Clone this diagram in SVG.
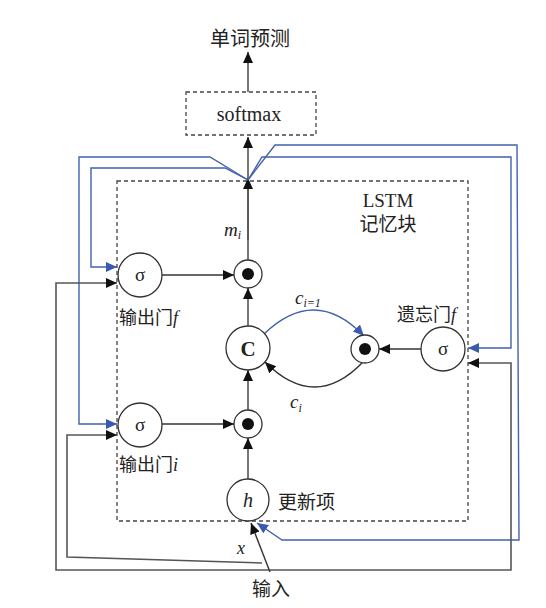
<svg xmlns="http://www.w3.org/2000/svg" width="546" height="608" viewBox="0 0 546 608">
<style>
.t{font-family:"Liberation Serif","Noto Sans CJK SC",serif;fill:#222}
.it{font-style:italic}
.node{fill:#fff;stroke:#333;stroke-width:1.3}
.dash{fill:none;stroke:#444;stroke-width:1.3;stroke-dasharray:4,3}
.bl{fill:none;stroke:#333;stroke-width:1.4}
.gl{fill:none;stroke:#555;stroke-width:1.6}
.bu{fill:none;stroke:#4262ad;stroke-width:1.4}
</style>
<defs>
<marker id="ab" markerUnits="userSpaceOnUse" markerWidth="12" markerHeight="11" refX="11" refY="5" orient="auto"><path d="M0,0L11,5L0,10z" fill="#111"/></marker>
<marker id="au" markerUnits="userSpaceOnUse" markerWidth="12" markerHeight="11" refX="11" refY="5" orient="auto"><path d="M0,0L11,5L0,10z" fill="#3a5aad"/></marker>
</defs>
<rect width="546" height="608" fill="#fff"/>
<g id="lstm-box"><rect class="dash" x="117" y="181" width="351" height="340"/>
<text class="t" x="388" y="207" font-size="19" text-anchor="middle">LSTM</text>
<text class="t" x="388" y="231" font-size="19" text-anchor="middle">记忆块</text></g>
<g id="connectors">
<path class="gl" d="M248,92V52" marker-end="url(#ab)"/>
<path class="gl" d="M248,260V137" marker-end="url(#ab)"/>
<path class="gl" d="M248,240V178" marker-end="url(#ab)"/>
<path class="bl" d="M162,275H234" marker-end="url(#ab)"/>
<path class="gl" d="M248,326V288" marker-end="url(#ab)"/>
<path class="bl" d="M162,424H234" marker-end="url(#ab)"/>
<path class="gl" d="M248,410V370" marker-end="url(#ab)"/>
<path class="gl" d="M248,479V438" marker-end="url(#ab)"/>
<path class="bl" d="M421,349H379" marker-end="url(#ab)"/>
<path class="bu" d="M264,334Q315,285 364,336" marker-end="url(#au)"/>
<path class="bl" d="M363,362Q315,412 265,362" marker-end="url(#ab)"/>
<path class="bu" d="M248,180L210,157H79V424H117" marker-end="url(#au)"/>
<path class="bu" d="M248,180L225,168H91V267H117" marker-end="url(#au)"/>
<path class="bu" d="M248,180L262,157H511V348H468" marker-end="url(#au)"/>
<path class="bu" d="M248,180L275,145H517L519,540H282L257,523" marker-end="url(#au)"/>
<path class="gl" d="M270,570H56V283H117" marker-end="url(#ab)"/>
<path class="gl" d="M270,570H511V363H468" marker-end="url(#ab)"/>
<path class="gl" d="M262,563L67,557V435H117" marker-end="url(#ab)"/>
<path class="bl" d="M270,572L251,523" marker-end="url(#ab)"/>
</g>
<g id="title"><text class="t" x="250" y="46" font-size="20" text-anchor="middle">单词预测</text></g>
<g id="softmax"><rect class="dash" x="186" y="92" width="130" height="43" fill="#fff"/>
<text class="t" x="249" y="121" font-size="20" text-anchor="middle">softmax</text></g>
<g id="mult-out"><circle class="node" cx="248" cy="274" r="14"/><circle cx="248" cy="274" r="6" fill="#111"/></g>
<g id="label-m"><text class="t it" x="224" y="236" font-size="19">m<tspan font-size="12" dy="3">i</tspan></text></g>
<g id="gate-out-f"><circle class="node" cx="140" cy="275" r="22"/><text class="t" x="140" y="281" font-size="19" text-anchor="middle">σ</text>
<text class="t" x="119" y="324" font-size="18">输出门<tspan class="it">f</tspan></text></g>
<g id="cell"><circle class="node" cx="248" cy="348" r="22"/><text class="t" x="248" y="356" font-size="21" font-weight="bold" text-anchor="middle">C</text></g>
<g id="mult-forget"><circle class="node" cx="365" cy="349" r="14"/><circle cx="365" cy="349" r="6" fill="#111"/></g>
<g id="gate-forget"><circle class="node" cx="443" cy="349" r="22"/><text class="t" x="443" y="355" font-size="19" text-anchor="middle">σ</text>
<text class="t" x="397" y="321" font-size="18">遗忘门<tspan class="it">f</tspan></text></g>
<g id="label-c1"><text class="t it" x="295" y="304" font-size="19">c<tspan font-size="12" dy="3">i=1</tspan></text></g>
<g id="label-c"><text class="t it" x="290" y="408" font-size="19">c<tspan font-size="12" dy="4">i</tspan></text></g>
<g id="gate-in"><circle class="node" cx="140" cy="425" r="22"/><text class="t" x="140" y="431" font-size="19" text-anchor="middle">σ</text>
<text class="t" x="119" y="471" font-size="18">输出门<tspan class="it">i</tspan></text></g>
<g id="mult-in"><circle class="node" cx="248" cy="424" r="14"/><circle cx="248" cy="424" r="6" fill="#111"/></g>
<g id="update"><circle class="node" cx="248" cy="500" r="21"/><text class="t it" x="248" y="507" font-size="20" text-anchor="middle">h</text>
<text class="t" x="278" y="509" font-size="19">更新项</text></g>
<g id="input"><text class="t it" x="237" y="554" font-size="18">x</text>
<text class="t" x="271" y="596" font-size="19" text-anchor="middle">输入</text></g>
</svg>
